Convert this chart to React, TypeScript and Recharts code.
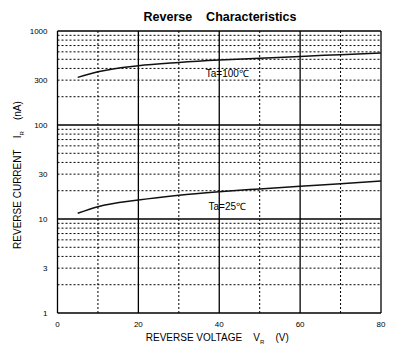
import { LineChart, Line, XAxis, YAxis, ReferenceLine, ReferenceDot, Label } from 'recharts'

const voltage = [5, 10, 20, 30, 40, 50, 60, 70, 80]
const current100 = [321, 369, 428, 463, 491, 513, 537, 560, 583]
const current25 = [11.5, 13.5, 15.9, 17.9, 19.5, 20.9, 22.3, 23.7, 25.4]
const xTicks = [0, 20, 40, 60, 80]
const yTicks = [1, 3, 10, 30, 100, 300, 1000]
const xMajor = [20, 40, 60, 80]
const xMinor = [10, 30, 50, 70]
const yMajor = [10, 100, 1000]
const yMinor = [2, 3, 4, 5, 6, 7, 8, 9, 20, 30, 40, 50, 60, 70, 80, 90, 200, 300, 400, 500, 600, 700, 800, 900]

const data = voltage.map((v, i) => ({ v, t100: current100[i], t25: current25[i] }))

const font = 'Liberation Sans, Arial, sans-serif'
const gap = '\u00a0\u00a0\u00a0\u00a0'

export default function App() {
  return (
    <div style={{ position: 'absolute', left: 0, top: 0, width: 410, height: 352, background: '#fff', fontFamily: font }}>
      <div style={{ position: 'absolute', left: 0, width: 440, top: 10, textAlign: 'center', fontSize: 12.5, fontWeight: 'bold' }}>
        Reverse&nbsp;&nbsp;&nbsp;&nbsp;Characteristics
      </div>
      <LineChart width={410} height={352} data={data} margin={{ top: 31, right: 29, left: 7.5, bottom: 9 }}>
        {yMinor.map((y) => (
          <ReferenceLine key={'ym' + y} y={y} stroke="#000" strokeWidth={1} strokeDasharray="2 2" />
        ))}
        {xMinor.map((x) => (
          <ReferenceLine key={'xm' + x} x={x} stroke="#000" strokeWidth={1} strokeDasharray="2 2" />
        ))}
        {yMajor.map((y) => (
          <ReferenceLine key={'yM' + y} y={y} stroke="#000" strokeWidth={1.3} />
        ))}
        {xMajor.map((x) => (
          <ReferenceLine key={'xM' + x} x={x} stroke="#000" strokeWidth={1.3} />
        ))}
        <XAxis
          dataKey="v"
          type="number"
          domain={[0, 80]}
          ticks={xTicks}
          tickLine={false}
          axisLine={{ stroke: '#000', strokeWidth: 1.3 }}
          tick={{ fontSize: 8, fill: '#000', fontFamily: font }}
          tickMargin={2}
          height={30}
        >
          <Label
            content={({ viewBox }: any) => (
              <text x={viewBox.x + viewBox.width / 2 - 2} y={viewBox.y + 28} textAnchor="middle" fontSize={10} fontFamily={font} fill="#000">
                REVERSE VOLTAGE{gap}V<tspan fontSize={6} dy={3}>R</tspan>
                <tspan dy={-3}>{gap}(V)</tspan>
              </text>
            )}
          />
        </XAxis>
        <YAxis
          scale="log"
          domain={[1, 1000]}
          ticks={yTicks}
          allowDataOverflow
          tickLine={false}
          axisLine={{ stroke: '#000', strokeWidth: 1.3 }}
          tick={{ fontSize: 8, fill: '#000', fontFamily: font }}
          tickMargin={4}
          width={50}
        >
          <Label
            content={({ viewBox }: any) => {
              const cx = 21
              const cy = viewBox.y + viewBox.height / 2 + 3
              return (
                <text x={cx} y={cy} transform={`rotate(-90 ${cx} ${cy})`} textAnchor="middle" fontSize={10} fontFamily={font} fill="#000">
                  REVERSE CURRENT{gap}I<tspan fontSize={6} dy={3}>R</tspan>
                  <tspan dy={-3}>{gap}(nA)</tspan>
                </text>
              )
            }}
          />
        </YAxis>
        <Line type="monotone" dataKey="t100" stroke="#111" strokeWidth={1.5} dot={false} isAnimationActive={false} />
        <Line type="monotone" dataKey="t25" stroke="#111" strokeWidth={1.5} dot={false} isAnimationActive={false} />
        <ReferenceDot x={42} y={357} r={0} stroke="none" fill="none">
          <Label value="Ta=100℃" position="center" fontSize={10} fill="#000" fontFamily={font} />
        </ReferenceDot>
        <ReferenceDot x={42} y={13.5} r={0} stroke="none" fill="none">
          <Label value="Ta=25℃" position="center" fontSize={10} fill="#000" fontFamily={font} />
        </ReferenceDot>
      </LineChart>
    </div>
  )
}
